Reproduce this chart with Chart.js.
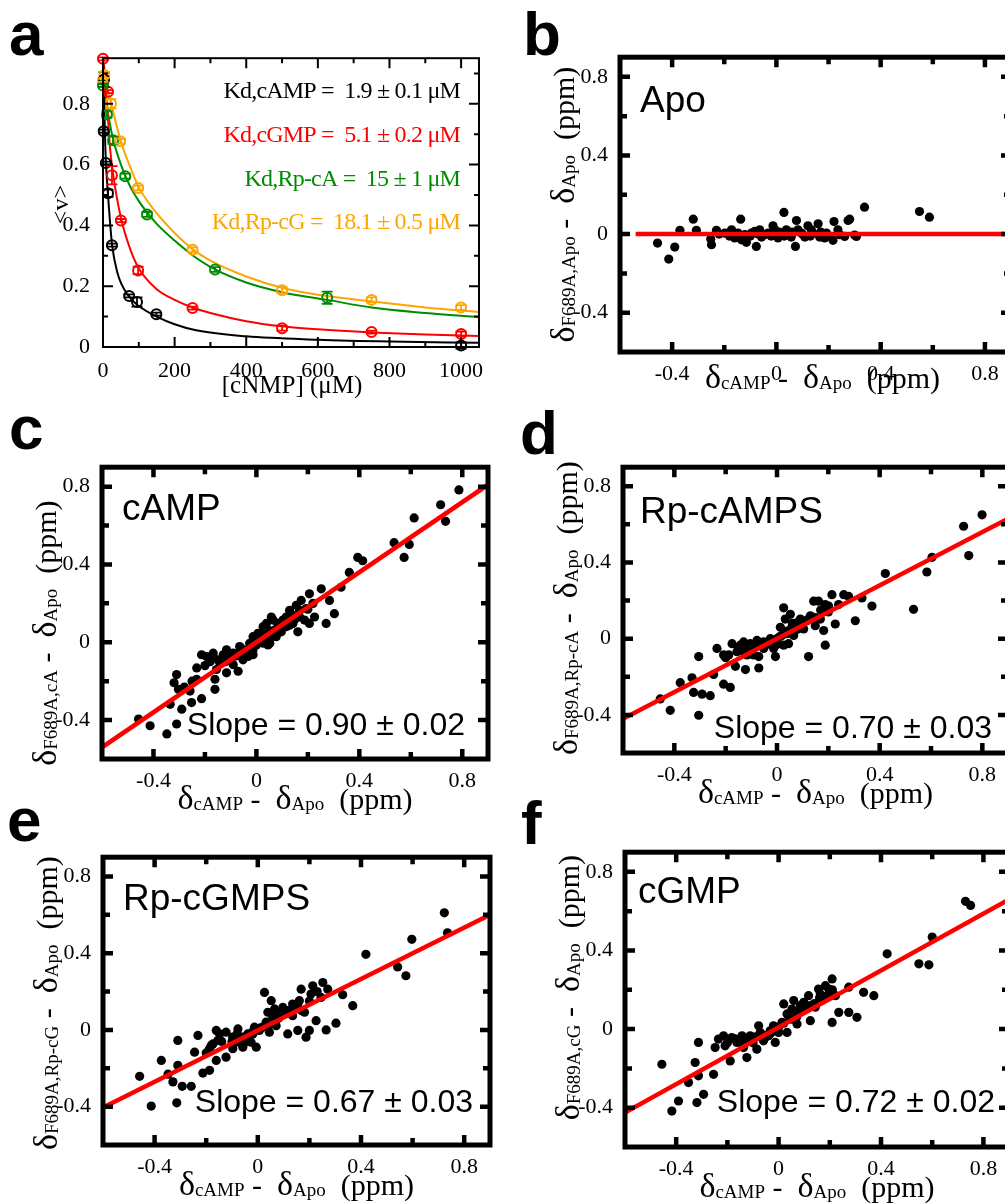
<!DOCTYPE html>
<html>
<head>
<meta charset="utf-8">
<script src="https://cdn.jsdelivr.net/npm/chart.js@4.4.1/dist/chart.umd.min.js"></script>
<style>
  html, body { margin: 0; padding: 0; background: #fff; width: 1005px; height: 1204px; overflow: hidden; position: relative; }
  canvas { position: absolute; }
  .lbl { position: absolute; font: bold 62px "Liberation Sans", Arial, sans-serif; line-height: 62px; color: #000; }
</style>
</head>
<body>
<canvas id="pa"></canvas>
<canvas id="pb"></canvas>
<canvas id="pc"></canvas>
<canvas id="pd"></canvas>
<canvas id="pe"></canvas>
<canvas id="pf"></canvas>
<div class="lbl" style="left:9px;top:3px">a</div>
<div class="lbl" style="left:523px;top:3px">b</div>
<div class="lbl" style="left:9px;top:397px">c</div>
<div class="lbl" style="left:520px;top:402px">d</div>
<div class="lbl" style="left:7px;top:789px">e</div>
<div class="lbl" style="left:521px;top:792px">f</div>
<script>
// ---- panel a: <v> vs [cNMP] (uM) ----
const campX = [2, 3, 8, 14, 25, 73, 95, 149, 1000];
const campV = [0.71, 0.88, 0.605, 0.506, 0.335, 0.168, 0.148, 0.108, 0.005];
const campErr = [0.005, 0.025, 0.005, 0.012, 0.005, 0.005, 0.015, 0.005, 0.01];
const cgmpX = [0, 14, 25, 50, 98, 250, 500, 750, 1000];
const cgmpV = [0.948, 0.84, 0.565, 0.416, 0.252, 0.128, 0.062, 0.049, 0.043];
const cgmpErr = [0.005, 0.005, 0.03, 0.005, 0.012, 0.005, 0.008, 0.005, 0.008];
const rpcaX = [0, 11, 28, 62, 123, 313, 626];
const rpcaV = [0.86, 0.765, 0.68, 0.562, 0.436, 0.255, 0.162];
const rpcaErr = [0.005, 0.01, 0.012, 0.008, 0.008, 0.008, 0.02];
const rpcgX = [0, 4, 22, 48, 98, 250, 500, 750, 1000];
const rpcgV = [0.877, 0.895, 0.8, 0.677, 0.523, 0.32, 0.187, 0.155, 0.13];
const rpcgErr = [0.005, 0.01, 0.015, 0.008, 0.008, 0.008, 0.01, 0.008, 0.008];

// fitted curves
const campFitX = [0, 3, 5, 8, 14, 25, 40, 70, 100, 150, 200, 260, 400, 600, 800, 1050];
const campFitV = [0.95, 0.85, 0.72, 0.61, 0.5, 0.34, 0.245, 0.17, 0.135, 0.1, 0.075, 0.055, 0.035, 0.024, 0.018, 0.014];
const cgmpFitX = [0, 5, 10, 20, 30, 50, 75, 100, 150, 200, 250, 300, 400, 500, 600, 750, 900, 1050];
const cgmpFitV = [0.95, 0.9, 0.82, 0.65, 0.555, 0.425, 0.325, 0.258, 0.19, 0.155, 0.13, 0.112, 0.085, 0.068, 0.058, 0.048, 0.041, 0.036];
const rpcaFitX = [0, 10, 25, 50, 75, 100, 125, 150, 200, 250, 313, 400, 500, 626, 750, 900, 1050];
const rpcaFitV = [0.92, 0.8, 0.7, 0.6, 0.53, 0.48, 0.44, 0.405, 0.35, 0.302, 0.255, 0.212, 0.18, 0.155, 0.13, 0.112, 0.098];
const rpcgFitX = [0, 10, 25, 50, 75, 100, 150, 200, 250, 300, 400, 500, 600, 750, 900, 1050];
const rpcgFitV = [0.91, 0.86, 0.79, 0.675, 0.595, 0.525, 0.44, 0.375, 0.322, 0.284, 0.232, 0.195, 0.172, 0.15, 0.13, 0.115];

const aXTicks = [0, 200, 400, 600, 800, 1000];
const aXMinor = [100, 300, 500, 700, 900];
const aYTicks = [0, 0.2, 0.4, 0.6, 0.8];
const aYMinor = [0.1, 0.3, 0.5, 0.7, 0.9];

// ---- panels b-f: [dcAMP - dApo, dF689A,X - dApo] (ppm) ----
const apoPts = [[-0.456,-0.046],[-0.413,-0.127],[-0.39,-0.066],[-0.37,0.019],[-0.319,0.076],[-0.307,0.019],[-0.252,-0.025],[-0.249,-0.054],[-0.23,0.019],[-0.183,0.005],[-0.16,-0.02],[-0.137,0.076],[-0.134,-0.029],[-0.115,-0.042],[-0.096,0.005],[-0.077,-0.063],[-0.057,-0.015],[-0.032,0.005],[-0.013,0.042],[0.006,-0.02],[0.029,0.11],[0.038,0.022],[0.057,-0.015],[0.073,-0.063],[0.077,0.069],[0.096,0.005],[0.121,0.042],[0.14,0.005],[0.16,0.052],[0.166,-0.015],[0.192,0.005],[0.217,-0.032],[0.221,0.064],[0.243,-0.003],[0.275,0.069],[0.281,0.076],[0.307,-0.012],[0.338,0.137],[0.549,0.115],[0.587,0.086],[-0.198,0.005],[-0.172,0.022],[-0.121,-0.003],[-0.083,0.014],[-0.045,-0.003],[-0.006,0.022],[0.019,0.005],[0.045,-0.003],[0.083,0.022],[0.109,-0.015],[0.134,0.022],[0.185,-0.02],[0.236,0.022],[0.262,-0.012],[-0.147,0.005],[-0.064,0.022],
  [-0.22,0],[-0.18,-0.01],[-0.1,-0.01],[-0.07,0],[-0.02,-0.01],[0.01,0.01],[0.03,-0.01],[0.06,0.01],[0.1,0],[0.13,-0.01],[0.17,0.01],[0.2,-0.01],[0.3,-0.005]];
const campPts = [[-0.458,-0.395],[-0.413,-0.429],[-0.348,-0.471],[-0.31,-0.42],[-0.29,-0.344],[-0.335,-0.319],[-0.31,-0.166],[-0.32,-0.208],[-0.303,-0.242],[-0.252,-0.31],[-0.213,-0.29],[-0.258,-0.251],[-0.232,-0.19],[-0.232,-0.132],[-0.213,-0.064],[-0.161,-0.242],[-0.161,-0.19],[-0.155,-0.14],[-0.168,-0.08],[-0.129,-0.064],[-0.116,-0.157],[-0.09,-0.115],[-0.071,-0.149],[-0.071,-0.056],[-0.052,-0.09],[-0.039,-0.039],[-0.013,-0.064],[-0.006,-0.014],[0.019,0.012],[0.026,0.08],[0.039,0.029],[0.045,-0.014],[0.058,0.13],[0.071,0.063],[0.084,0.097],[0.103,0.114],[0.116,0.08],[0.142,0.139],[0.155,0.19],[0.161,0.054],[0.168,0.164],[0.187,0.114],[0.206,0.097],[0.206,0.249],[0.226,0.13],[0.252,0.275],[0.271,0.097],[0.284,0.215],[0.303,0.147],[0.329,0.283],[0.361,0.359],[0.394,0.436],[0.413,0.419],[0.535,0.512],[0.574,0.436],[0.594,0.503],[0.613,0.639],[0.716,0.707],[0.735,0.622],[0.787,0.783],[-0.09,-0.056],[-0.116,-0.039],[-0.065,-0.022],[-0.026,-0.005],[-0.013,0.029],[0.006,0.046],[0.026,0.046],[0.039,0.097],[0.065,0.114],[0.077,0.029],[0.097,0.054],[0.116,0.13],[0.129,0.164],[0.142,0.097],[0.168,0.13],[0.174,0.215],[0.194,0.173],[-0.168,-0.056],[-0.194,-0.073],[-0.142,-0.107],[-0.103,-0.073],[-0.052,-0.056],[-0.032,-0.073],[0,-0.014],[0.052,-0.005],[0.026,-0.005],[-0.013,-0.039],[0.129,0.088],
  [-0.2,-0.12],[-0.18,-0.1],[-0.15,-0.09],[-0.12,-0.1],[-0.08,-0.07],[-0.06,-0.03],[-0.02,-0.02],[0.01,0.01],[0.03,0.02],[0.05,0.06],[0.06,0.03],[0.08,0.07],[0.1,0.09],[0.12,0.11],[0.15,0.12],[0.2,0.17],[0.22,0.2],[-0.25,-0.2],[-0.28,-0.23]];
const rpcaPts = [[-0.455,-0.316],[-0.416,-0.376],[-0.377,-0.231],[-0.331,-0.205],[-0.325,-0.282],[-0.305,-0.094],[-0.305,-0.402],[-0.292,-0.291],[-0.26,-0.299],[-0.247,-0.188],[-0.234,-0.051],[-0.208,-0.239],[-0.182,-0.256],[-0.188,-0.085],[-0.175,-0.026],[-0.162,-0.145],[-0.156,-0.068],[-0.13,-0.017],[-0.123,-0.162],[-0.117,-0.085],[-0.097,-0.051],[-0.078,-0.009],[-0.071,-0.154],[-0.071,-0.094],[-0.052,-0.051],[-0.032,-0.026],[-0.013,-0.051],[-0.006,-0.094],[0,0],[0.013,0.06],[0.026,0.162],[0.032,0.103],[0.039,0.026],[0.045,-0.026],[0.052,0.128],[0.058,0.06],[0.078,0.085],[0.091,0.068],[0.117,0.094],[0.123,-0.094],[0.143,0.197],[0.149,0.068],[0.162,0.197],[0.169,0.103],[0.182,0.043],[0.188,-0.034],[0.201,0.171],[0.214,0.231],[0.227,0.077],[0.24,0.179],[0.26,0.231],[0.279,0.222],[0.305,0.094],[0.331,0.214],[0.37,0.171],[0.422,0.342],[0.532,0.154],[0.584,0.35],[0.604,0.427],[0.727,0.59],[0.747,0.436],[0.799,0.65],[-0.143,-0.034],[-0.104,-0.026],[-0.052,-0.017],[-0.026,0],[0.019,0.017],[0.065,0.051],[0.091,0.103],[0.104,0.051],[-0.13,-0.068],[-0.091,-0.085],[0.026,-0.034],[0.065,0.017],[0.13,0.12],[0.188,0.179],[-0.208,-0.085],
  [-0.2,-0.1],[-0.15,-0.05],[-0.12,-0.06],[-0.08,-0.04],[-0.04,-0.03],[-0.02,-0.01],[0.01,0.01],[0.04,0.04],[0.06,0.08],[0.08,0.05],[0.1,0.08],[0.12,0.1],[0.15,0.11],[0.17,0.15],[0.2,0.14],[-0.1,-0.04],[0,-0.03]];
const rpcgPts = [[-0.458,-0.242],[-0.413,-0.397],[-0.374,-0.159],[-0.348,-0.231],[-0.329,-0.271],[-0.31,-0.055],[-0.31,-0.185],[-0.314,-0.38],[-0.293,-0.294],[-0.258,-0.294],[-0.245,-0.116],[-0.232,-0.029],[-0.213,-0.225],[-0.187,-0.211],[-0.187,-0.098],[-0.161,-0.003],[-0.161,-0.159],[-0.155,-0.055],[-0.123,-0.012],[-0.123,-0.142],[-0.097,-0.098],[-0.077,0.005],[-0.071,-0.055],[-0.058,-0.09],[-0.039,-0.021],[-0.026,-0.064],[-0.013,0.014],[-0.006,-0.09],[0.019,0.014],[0.026,0.195],[0.039,0.092],[0.045,-0.012],[0.052,0.152],[0.065,0.109],[0.071,0.022],[0.11,0.1],[0.116,-0.021],[0.135,0.074],[0.155,-0.003],[0.155,0.135],[0.168,0.212],[0.181,0.092],[0.187,-0.038],[0.2,-0.003],[0.206,0.187],[0.213,0.23],[0.226,0.048],[0.245,0.169],[0.252,0.247],[0.265,0],[0.271,0.212],[0.303,0.035],[0.329,0.183],[0.368,0.126],[0.419,0.394],[0.542,0.328],[0.574,0.282],[0.597,0.472],[0.723,0.61],[0.735,0.506],[-0.097,-0.038],[-0.058,-0.038],[-0.019,-0.021],[0.006,-0.003],[0.032,0.04],[0.058,0.066],[0.084,0.083],[0.097,0.117],[0.135,0.135],[0.161,0.152],[-0.148,-0.021],[-0.174,-0.073],[-0.084,-0.064],
  [-0.2,-0.12],[-0.18,-0.08],[-0.14,-0.06],[-0.1,-0.06],[-0.06,-0.05],[-0.04,-0.06],[-0.02,-0.01],[0.01,0.01],[0.04,0.02],[0.06,0.04],[0.08,0.06],[0.12,0.1],[0.14,0.12],[0.17,0.1],[0.2,0.15],[0.23,0.2],[-0.08,-0.02]];
const cgmpPts = [[-0.456,-0.179],[-0.417,-0.417],[-0.391,-0.366],[-0.352,-0.272],[-0.326,-0.17],[-0.319,-0.374],[-0.313,-0.068],[-0.313,-0.238],[-0.293,-0.332],[-0.254,-0.23],[-0.248,-0.094],[-0.235,-0.051],[-0.209,-0.085],[-0.189,-0.162],[-0.183,-0.043],[-0.163,-0.068],[-0.143,-0.034],[-0.124,-0.145],[-0.117,-0.06],[-0.085,-0.102],[-0.078,0.017],[-0.059,-0.06],[-0.039,-0.034],[-0.02,0.017],[-0.013,-0.068],[0,-0.017],[0.02,0.128],[0.033,-0.017],[0.039,0.068],[0.059,0.145],[0.072,0.026],[0.085,0.119],[0.117,0.17],[0.124,0.043],[0.143,0.111],[0.156,0.204],[0.176,0.153],[0.183,0.221],[0.209,0.255],[0.209,0.034],[0.222,0.17],[0.235,0.085],[0.274,0.213],[0.274,0.085],[0.306,0.06],[0.332,0.187],[0.372,0.17],[0.424,0.383],[0.548,0.332],[0.587,0.327],[0.6,0.468],[0.73,0.65],[0.75,0.629],[-0.15,-0.06],[-0.111,-0.034],[-0.072,-0.017],[-0.052,-0.043],[-0.033,-0.009],[0.013,0.034],[0.033,0.077],[0.052,0.102],[0.072,0.085],[0.098,0.136],[0.124,0.119],[0.163,0.179],[0.196,0.204],[-0.215,-0.034],[-0.137,-0.094],
  [-0.2,-0.07],[-0.17,-0.05],[-0.13,-0.05],[-0.09,-0.04],[-0.06,-0.03],[-0.03,-0.02],[0,0.01],[0.02,0.03],[0.05,0.05],[0.07,0.06],[0.09,0.1],[0.11,0.11],[0.14,0.13],[0.16,0.16],[0.19,0.17],[0.21,0.2],[-0.1,-0.07]];

// red regression lines (end points)
const apoLine = [[-0.54, 0], [0.9, 0]];
const campLine = [[-0.6, -0.54], [0.9, 0.81]];
const rpcaLine = [[-0.6, -0.42], [0.9, 0.63]];
const rpcgLine = [[-0.6, -0.404], [0.9, 0.6]];
const cgmpLine = [[-0.6, -0.425], [0.9, 0.66]];

const sTicks = [-0.4, 0, 0.4, 0.8];
const sMinor = [-0.2, 0.2, 0.6];

const SERIF = '"Liberation Serif", "Times New Roman", serif';
const SANS = '"Liberation Sans", Arial, sans-serif';

// draw a run of differently sized text pieces, centred on (cx, cy)
function drawRich(ctx, segs, cx, cy, rot) {
  ctx.save();
  ctx.translate(cx, cy);
  ctx.rotate(rot);
  ctx.fillStyle = '#000';
  ctx.textAlign = 'left';
  ctx.textBaseline = 'alphabetic';
  const widths = segs.map(s => { ctx.font = s[1]; return ctx.measureText(s[0]).width; });
  let x = -widths.reduce((p, w) => p + w, 0) / 2;
  segs.forEach((s, i) => { ctx.font = s[1]; ctx.fillText(s[0], x, s[2] || 0); x += widths[i]; });
  ctx.restore();
}

const BIG = '34px ' + SERIF, MID = '30px ' + SERIF, SMALL = '19px ' + SERIF;
const deltaTitle = sub => [['δ', BIG], [sub, SMALL, 1], [' -  ', MID], ['δ', BIG], ['Apo', SMALL, 1], ['  (ppm)', MID]];

function framePlugin(o) {
  return {
    id: 'frame',
    afterDatasetsDraw(chart) {
      const { ctx, chartArea: a } = chart;
      const sx = chart.scales.x, sy = chart.scales.y;
      ctx.save();
      ctx.strokeStyle = '#000';
      ctx.lineWidth = o.tickW;
      ctx.beginPath();
      const xt = (vals, len) => vals.forEach(v => {
        const px = sx.getPixelForValue(v);
        ctx.moveTo(px, a.top); ctx.lineTo(px, a.top + len);
        ctx.moveTo(px, a.bottom); ctx.lineTo(px, a.bottom - len);
      });
      const yt = (vals, len) => vals.forEach(v => {
        const py = sy.getPixelForValue(v);
        ctx.moveTo(a.left, py); ctx.lineTo(a.left + len, py);
        ctx.moveTo(a.right, py); ctx.lineTo(a.right - len, py);
      });
      xt(o.xMajor, o.major); xt(o.xMinor, o.minor);
      yt(o.yMajor, o.major); yt(o.yMinor, o.minor);
      ctx.stroke();
      ctx.lineWidth = o.frameW;
      ctx.strokeRect(a.left, a.top, a.right - a.left, a.bottom - a.top);
      ctx.restore();
    }
  };
}

function textPlugin(o) {
  return {
    id: 'texts',
    afterDraw(chart) {
      const { ctx, chartArea: a } = chart;
      o.items.forEach(it => {
        ctx.save();
        ctx.font = it.font;
        if (it.spacing) ctx.letterSpacing = it.spacing;
        ctx.fillStyle = it.color || '#000';
        ctx.textAlign = it.right ? 'right' : 'left';
        ctx.textBaseline = 'alphabetic';
        const x = it.right ? a.right - it.dx : a.left + it.dx;
        const y = it.bottom ? a.bottom - it.dy : a.top + it.dy;
        ctx.fillText(it.text, x, y);
        ctx.restore();
      });
      drawRich(ctx, o.xTitle, (a.left + a.right) / 2 + o.xDx, a.bottom + o.xDy, 0);
      drawRich(ctx, o.yTitle, a.left - o.yDx, (a.top + a.bottom) / 2 + o.yDy, -Math.PI / 2);
    }
  };
}

const errorBarPlugin = {
  id: 'errbars',
  afterDatasetsDraw(chart) {
    const { ctx } = chart;
    const sy = chart.scales.y;
    chart.data.datasets.forEach((ds, di) => {
      if (!ds.errs) return;
      const meta = chart.getDatasetMeta(di);
      ctx.save();
      ctx.strokeStyle = ds.borderColor;
      ctx.lineWidth = 1.8;
      ctx.beginPath();
      meta.data.forEach((pt, i) => {
        const v = ds.data[i].y, e = ds.errs[i];
        const y1 = sy.getPixelForValue(v + e), y2 = sy.getPixelForValue(v - e);
        ctx.moveTo(pt.x, y1); ctx.lineTo(pt.x, y2);
        ctx.moveTo(pt.x - 5.5, y1); ctx.lineTo(pt.x + 5.5, y1);
        ctx.moveTo(pt.x - 5.5, y2); ctx.lineTo(pt.x + 5.5, y2);
      });
      ctx.stroke();
      ctx.restore();
    });
  }
};

// place a canvas so that the plot area lands on box = [left, top, right, bottom]
function makeChart(id, canvasBox, box, datasets, scales, plugins) {
  const [cl, ct, cr, cb] = canvasBox;
  const [l, t, r, b] = box;
  const el = document.getElementById(id);
  el.width = cr - cl; el.height = cb - ct;
  el.style.left = cl + 'px'; el.style.top = ct + 'px';
  el.style.width = (cr - cl) + 'px'; el.style.height = (cb - ct) + 'px';
  const yW = 60, xH = 30;
  scales.x.afterFit = s => { s.height = xH; };
  scales.y.afterFit = s => { s.width = yW; };
  return new Chart(el, {
    type: 'scatter',
    data: { datasets },
    options: {
      responsive: false,
      animation: false,
      events: [],
      layout: { autoPadding: false, padding: { left: l - cl - yW, top: t - ct, right: cr - r, bottom: cb - b - xH } },
      plugins: { legend: { display: false }, tooltip: { enabled: false } },
      scales
    },
    plugins
  });
}

function axis(min, max, ticks, size, pad) {
  return {
    type: 'linear', min, max,
    afterBuildTicks: s => { s.ticks = ticks.map(v => ({ value: v })); },
    grid: { display: false },
    border: { display: false },
    ticks: { callback: v => String(v), font: { family: SERIF, size }, color: '#000', padding: pad, autoSkip: false, maxRotation: 0 }
  };
}

const toXY = (xs, ys) => xs.map((x, i) => ({ x, y: ys[i] }));
const pairs = p => p.map(([x, y]) => ({ x, y }));

// ---- panel a ----
const aSeries = [
  { xs: campX, ys: campV, errs: campErr, fx: campFitX, fy: campFitV, color: '#000000' },
  { xs: cgmpX, ys: cgmpV, errs: cgmpErr, fx: cgmpFitX, fy: cgmpFitV, color: '#ff0000' },
  { xs: rpcaX, ys: rpcaV, errs: rpcaErr, fx: rpcaFitX, fy: rpcaFitV, color: '#008c00' },
  { xs: rpcgX, ys: rpcgV, errs: rpcgErr, fx: rpcgFitX, fy: rpcgFitV, color: '#ffa500' }
];
const aSets = aSeries.map(s => ({
  data: toXY(s.xs, s.ys), errs: s.errs, borderColor: s.color, backgroundColor: 'rgba(0,0,0,0)',
  pointRadius: 5, borderWidth: 2, clip: false
})).concat(aSeries.map(s => ({
  type: 'line', data: toXY(s.fx, s.fy), borderColor: s.color, borderWidth: 2,
  pointRadius: 0, cubicInterpolationMode: 'monotone', fill: false
})));

const kdFont = '24px ' + SERIF;
makeChart('pa', [0, 40, 490, 410], [103, 52, 479, 347], aSets,
  { x: axis(0, 1050, aXTicks, 22, 3), y: axis(0, 0.95, aYTicks, 22, 5) },
  [errorBarPlugin,
   framePlugin({ xMajor: aXTicks, xMinor: aXMinor, yMajor: aYTicks, yMinor: aYMinor, major: 10, minor: 5, tickW: 2, frameW: 2 }),
   textPlugin({
     items: [
       { text: 'Kd,cAMP =  1.9 ± 0.1 μM', font: kdFont, spacing: '-0.8px', color: '#000000', right: true, dx: 19, dy: 40 },
       { text: 'Kd,cGMP =  5.1 ± 0.2 μM', font: kdFont, spacing: '-0.8px', color: '#ff0000', right: true, dx: 19, dy: 84 },
       { text: 'Kd,Rp-cA =  15 ± 1 μM', font: kdFont, spacing: '-0.8px', color: '#008c00', right: true, dx: 19, dy: 128 },
       { text: 'Kd,Rp-cG =  18.1 ± 0.5 μM', font: kdFont, spacing: '-0.8px', color: '#ffa500', right: true, dx: 19, dy: 171 }
     ],
     xTitle: [['[cNMP] (μM)', '25px ' + SERIF]], xDx: 1, xDy: 46,
     yTitle: [['<v>', '24px ' + SERIF]], yDx: 35, yDy: 2
   })]);

// ---- panels b-f ----
const scatterPanels = [
  { id: 'pb', cbox: [540, 40, 1021, 405], box: [620, 57, 1011, 352], pts: apoPts, line: apoLine, name: 'Apo', nd: [20, 55],
    sub: 'F689A,Apo', slope: null, xDx: 7, xDy: 36, yDy: 0 },
  { id: 'pc', cbox: [20, 450, 498, 825], box: [102, 462, 488, 759], pts: campPts, line: campLine, name: 'cAMP', nd: [20, 53],
    sub: 'F689A,cA', slope: ['Slope = 0.90 ± 0.02', 23, 24], xDx: 0, xDy: 50, yDy: 20 },
  { id: 'pd', cbox: [545, 450, 1020, 815], box: [623, 462, 1008, 753], pts: rpcaPts, line: rpcaLine, name: 'Rp-cAMPS', nd: [17, 56],
    sub: 'F689A,Rp-cA', slope: ['Slope = 0.70 ± 0.03', 16, 15], xDx: 0, xDy: 50, yDy: -2 },
  { id: 'pe', cbox: [20, 840, 500, 1204], box: [103, 855, 490, 1145], pts: rpcgPts, line: rpcgLine, name: 'Rp-cGMPS', nd: [20, 53],
    sub: 'F689A,Rp-cG', slope: ['Slope = 0.67 ± 0.03', 17, 33], xDx: 0, xDy: 50, yDy: 2 },
  { id: 'pf', cbox: [545, 835, 1020, 1204], box: [625, 847, 1009, 1147], pts: cgmpPts, line: cgmpLine, name: 'cGMP', nd: [13, 51],
    sub: 'F689A,cG', slope: ['Slope = 0.72 ± 0.02', 14, 35], xDx: 0, xDy: 50, yDy: -12 }
];

scatterPanels.forEach(p => {
  const items = [{ text: p.name, font: '37px ' + SANS, dx: p.nd[0], dy: p.nd[1] }];
  if (p.slope) items.push({ text: p.slope[0], font: '32px ' + SANS, right: true, bottom: true, dx: p.slope[1], dy: p.slope[2] });
  makeChart(p.id, p.cbox, p.box, [
    { type: 'line', data: pairs(p.line), borderColor: '#ff0000', borderWidth: 4.5, pointRadius: 0, fill: false },
    { data: pairs(p.pts), backgroundColor: '#000', borderWidth: 0, pointRadius: 4.6 }
  ], { x: axis(-0.6, 0.9, sTicks, 22, 1), y: axis(-0.6, 0.9, sTicks, 22, 4) },
  [framePlugin({ xMajor: sTicks, xMinor: sMinor, yMajor: sTicks, yMinor: sMinor, major: 10, minor: 7, tickW: 4.5, frameW: 5 }),
   textPlugin({ items, xTitle: deltaTitle('cAMP'), xDx: p.xDx, xDy: p.xDy, yTitle: deltaTitle(p.sub), yDx: 46, yDy: p.yDy })]);
});
</script>
</body>
</html>
